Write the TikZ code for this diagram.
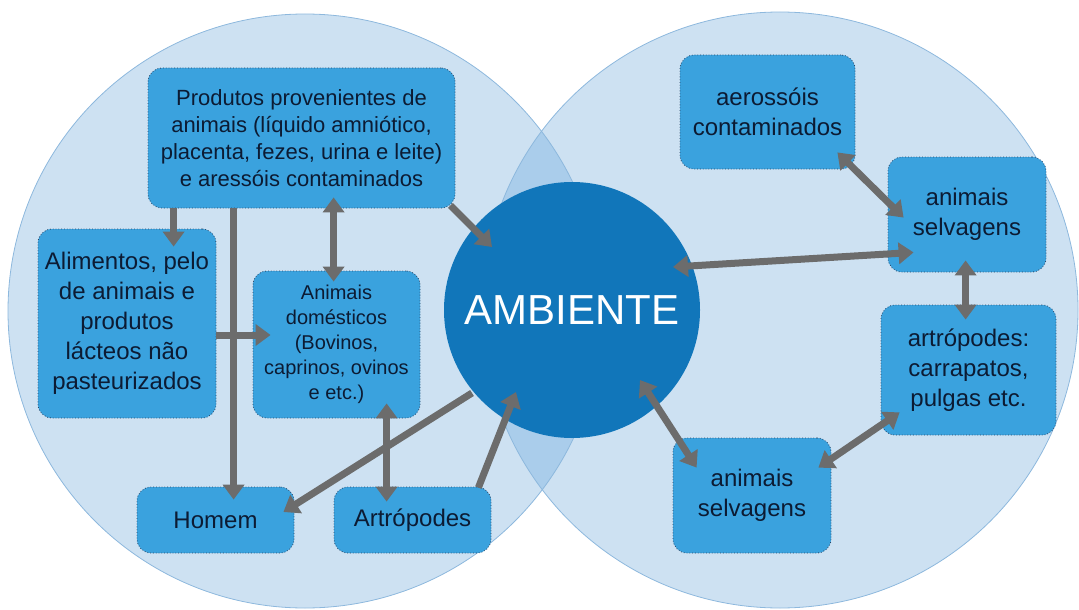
\documentclass[tikz,border=0pt]{standalone}
\usepackage{fontspec}
\setmainfont{Liberation Sans}
\usetikzlibrary{calc,arrows.meta}
\definecolor{circfill}{RGB}{205,225,242}
\definecolor{lensfill}{RGB}{170,205,235}
\definecolor{circline}{RGB}{141,184,221}
\definecolor{ambblue}{RGB}{17,118,186}
\definecolor{boxfill}{RGB}{58,162,222}
\definecolor{boxline}{RGB}{40,70,105}
\definecolor{arrgray}{RGB}{108,108,108}
\definecolor{txtnavy}{RGB}{12,27,51}
\begin{document}
\begin{tikzpicture}[x=1pt,y=-1pt,
    box/.style={rectangle,rounded corners=14pt,fill=boxfill,draw=boxline,dotted,line width=0.8pt,
        inner sep=0pt,align=center,text=txtnavy,font=\fontsize{24}{30}\selectfont},
    arr/.style={draw=arrgray,line width=7pt,-{Triangle[width=21pt,length=15pt]}},
    darr/.style={draw=arrgray,line width=7pt,{Triangle[width=21pt,length=15pt]}-{Triangle[width=21pt,length=15pt]}}]
    \useasboundingbox (0,0) rectangle (1079,610);
    \fill[circfill] (305,311) circle[radius=297pt];
    \fill[circfill] (780,310) circle[radius=298pt];
    \begin{scope}
        \clip (305,311) circle[radius=297pt];
        \fill[lensfill] (780,310) circle[radius=298pt];
    \end{scope}
    \draw[circline,line width=0.8pt] (305,311) circle[radius=297pt];
    \draw[circline,line width=0.8pt] (780,310) circle[radius=298pt];
    \node[circle,fill=ambblue,minimum size=256pt,inner sep=0pt,text=white,font=\fontsize{42}{42}\selectfont] (ambiente) at (572,310) {AMBIENTE};
    % left circle
    \node[box,minimum width=307pt,minimum height=140pt,font=\fontsize{22}{27}\selectfont] (prod) at (301.5,138)
        {Produtos provenientes de\\animais (líquido amniótico,\\placenta, fezes, urina e leite)\\e aressóis contaminados};
    \node[box,minimum width=178pt,minimum height=189pt] (alim) at (127,323.5)
        {Alimentos, pelo\\de animais e\\produtos\\lácteos não\\pasteurizados};
    \node[box,minimum width=167pt,minimum height=147pt,font=\fontsize{20}{25}\selectfont] (dom) at (336.5,344.5)
        {Animais\\domésticos\\(Bovinos,\\caprinos, ovinos\\e etc.)};
    \node[box,minimum width=157pt,minimum height=66pt] (homem) at (215.5,520) {Homem};
    \node[box,minimum width=157pt,minimum height=66pt] (artr) at (412.5,520) {Artrópodes};
    % right circle
    \node[box,minimum width=175pt,minimum height=114pt] (aeros) at (767.5,112) {aerossóis\\contaminados};
    \node[box,minimum width=158pt,minimum height=115pt] (animtop) at (967,214.5) {animais\\selvagens};
    \node[box,minimum width=175pt,minimum height=130pt] (artrr) at (968.5,370) {artrópodes:\\carrapatos,\\pulgas etc.};
    \node[box,minimum width=158pt,minimum height=115pt] (animbot) at (752,495.5) {animais\\selvagens};
    % connectors
    \draw[arr] ($(prod.south west)+(26,0)$) -- ($(alim.north west)+(136,18)$);
    \draw[arr] ($(prod.south west)+(86,0)$) -- ($(homem.north west)+(97,13)$);
    \draw[darr] ($(prod.south west)+(186,-11)$) -- ($(dom.north west)+(81,11)$);
    \draw[arr] ($(prod.south east)+(-5,-3)$) -- ($(ambiente.center)+(-80,-63)$);
    \draw[arr] ($(alim.east)+(0,11.5)$) -- ($(dom.west)+(18,-9.5)$);
    \draw[darr] ($(dom.south west)+(134,-15)$) -- ($(artr.north west)+(53,15)$);
    \draw[arr] ($(ambiente.center)+(-100,83)$) -- ($(homem.east)+(-11,-8)$);
    \draw[arr] ($(artr.north east)+(-13,1)$) -- ($(ambiente.center)+(-56,82)$);
    \draw[darr] ($(aeros.south east)+(-18,-17)$) -- ($(animtop.north west)+(16,61)$);
    \draw[darr] ($(ambiente.center)+(101,-43)$) -- ($(animtop.south west)+(26,-20)$);
    \draw[darr] ($(animtop.south west)+(78,-12)$) -- ($(artrr.north west)+(85,15)$);
    \draw[darr] ($(ambiente.center)+(68,70)$) -- ($(animbot.north west)+(24,30)$);
    \draw[darr] ($(artrr.south west)+(19,-23)$) -- ($(animbot.north east)+(-13,30)$);
\end{tikzpicture}
\end{document}
